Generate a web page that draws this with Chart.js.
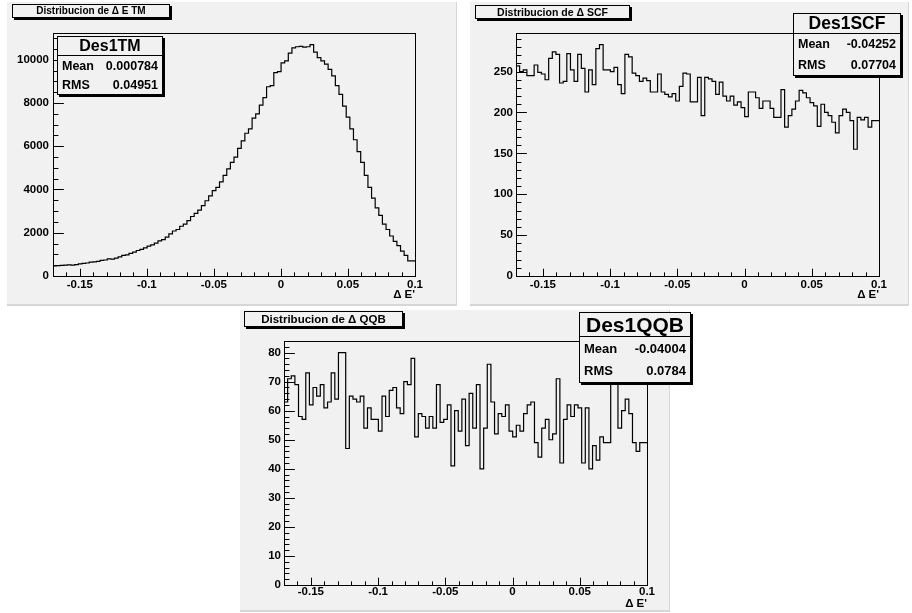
<!DOCTYPE html>
<html>
<head>
<meta charset="utf-8">
<script src="https://cdn.jsdelivr.net/npm/chart.js@4.4.0/dist/chart.umd.min.js"></script>
<style>
  html, body { margin: 0; padding: 0; background: #ffffff; }
  body { width: 912px; height: 613px; position: relative; overflow: hidden;
         font-family: "Liberation Sans", Arial, Helvetica, sans-serif; }
  .pad { position: absolute; background: #f1f1f1; box-sizing: border-box;
         border-right: 1px solid #d6d6d6; border-bottom: 2px solid #d6d6d6; }
  canvas.h { position: absolute; }
  .ttl { position: absolute; box-sizing: border-box; background: #f1f1f1;
         border: 1px solid #000; box-shadow: 2px 2px 0 #000; font-weight: bold;
         text-align: center; color: #000; white-space: nowrap; }
  .stats { position: absolute; box-sizing: border-box; background: #f1f1f1;
           border: 1px solid #000; box-shadow: 2px 2px 0 #000; color: #000;
           display: flex; flex-direction: column; font-weight: bold; }
  .stats .sh { border-bottom: 1px solid #000; text-align: center; white-space: nowrap; }
  .stats .sr { flex: 1; display: flex; justify-content: space-between; align-items: center;
               padding: 0 4px 0 4px; white-space: nowrap; }
</style>
</head>
<body>
<script>
// ΔE' histograms: 100 bins over [-0.17, 0.10]
const xLow = -0.17;
const xHigh = 0.10;
const nBins = 100;

const countsTM = [
  450, 470, 480, 490, 500, 510, 500, 530, 560, 580,
  600, 640, 650, 680, 720, 740, 790, 780, 830, 880,
  950, 980, 1050, 1100, 1180, 1230, 1300, 1380, 1440, 1520,
  1620, 1680, 1800, 1950, 2080, 2150, 2300, 2400, 2560, 2750,
  2900, 3050, 3250, 3480, 3700, 3950, 4100, 4350, 4650, 4950,
  5250, 5500, 5900, 6250, 6600, 6800, 7300, 7500, 7900, 8250,
  8750, 8800, 9400, 9450, 9850, 9950, 10300, 10550, 10600, 10620,
  10580, 10600, 10700, 10350, 10100, 9950, 9800, 9550, 9250, 8800,
  8400, 7850, 7350, 6800, 6300, 5750, 5250, 4650, 4100, 3600,
  3150, 2800, 2400, 2150, 1850, 1600, 1400, 1150, 950, 700
];

const countsSCF = [
  251, 257, 250, 252, 245, 245, 258, 249, 247, 240,
  266, 274, 271, 236, 238, 272, 252, 238, 271, 254,
  225, 252, 234, 278, 283, 252, 252, 250, 255, 234,
  223, 271, 268, 248, 245, 238, 242, 239, 225, 225,
  247, 225, 222, 219, 223, 214, 232, 248, 247, 213,
  213, 243, 196, 243, 241, 238, 222, 237, 220, 214,
  220, 209, 213, 206, 195, 225, 225, 218, 205, 214,
  214, 205, 194, 194, 228, 182, 196, 204, 214, 227,
  224, 218, 212, 208, 183, 210, 200, 196, 188, 175,
  196, 204, 200, 190, 155, 194, 191, 194, 182, 190
];

const countsQQB = [
  68, 63, 71, 72, 69, 58, 57, 73, 62, 68,
  65, 69, 61, 63, 73, 64, 80, 80, 47, 65,
  64, 63, 65, 54, 61, 57, 57, 53, 65, 58,
  67, 68, 61, 59, 70, 69, 78, 51, 59, 58,
  54, 58, 54, 69, 56, 57, 62, 41, 60, 53,
  64, 48, 66, 54, 69, 40, 54, 76, 63, 52,
  59, 58, 62, 53, 51, 55, 53, 59, 62, 63,
  49, 44, 54, 57, 50, 52, 71, 42, 57, 62,
  58, 62, 61, 42, 61, 40, 48, 43, 51, 49,
  49, 76, 73, 54, 60, 64, 59, 49, 46, 49
];

const xTickLabels = ['-0.15', '-0.1', '-0.05', '0', '0.05', '0.1'];
const yTickLabelsTM = ['0', '2000', '4000', '6000', '8000', '10000'];
const yTickLabelsSCF = ['0', '50', '100', '150', '200', '250'];
const yTickLabelsQQB = ['0', '10', '20', '30', '40', '50', '60', '70', '80'];

const histTitles = ['Distribucion de \u0394 E TM', 'Distribucion de \u0394 SCF', 'Distribucion de \u0394 QQB'];
const statNames = ['Des1TM', 'Des1SCF', 'Des1QQB'];
const statMeans = ['0.000784', '-0.04252', '-0.04004'];
const statRMS = ['0.04951', '0.07704', '0.0784'];
const xAxisTitle = '\u0394 E\'';

// Pad geometry and text sizing for each histogram pad
const layouts = [
  { pad: [7, 2, 450, 304], yAxisW: 46, xAxisH: 30, padTop: 31, padRight: 42,
    xLabelPad: 2, yLabelPad: 4, titlePadB: 4, tickSize: 11.5,
    title: [12, 4, 158, 14, 10],
    stats: [57, 36, 106, 59, 19, 16, 12.5],
    yMinor: 500 },
  { pad: [470, 2, 439, 304], yAxisW: 46, xAxisH: 30, padTop: 31, padRight: 30,
    xLabelPad: 2, yLabelPad: 3, titlePadB: 4, tickSize: 11.5,
    title: [475, 5, 155, 14, 10.5],
    stats: [793, 13, 108, 63, 20, 17.5, 12.5],
    yMinor: 10 },
  { pad: [240, 310, 430, 302], yAxisW: 44, xAxisH: 27, padTop: 31, padRight: 23,
    xLabelPad: 0, yLabelPad: 3, titlePadB: 1, tickSize: 11.5,
    title: [244, 311, 159, 16, 11.5],
    stats: [579, 312, 112, 71, 24, 21, 13],
    yMinor: 2 }
];

const FONT = '"Liberation Sans", Arial, Helvetica, sans-serif';

// Inward ROOT-style tick marks plus the frame around the plot area
const frameTicks = {
  id: 'frameTicks',
  afterDatasetsDraw(chart) {
    const { ctx, chartArea: a, scales: { x, y } } = chart;
    const xl = (a.bottom - a.top) * 0.03;
    const yl = (a.right - a.left) * 0.03;
    ctx.save();
    ctx.strokeStyle = '#000';
    ctx.lineWidth = 1;
    ctx.beginPath();
    x.ticks.forEach(t => {
      const px = Math.round(x.getPixelForValue(t.value)) + 0.5;
      const L = t.label !== '' ? xl : xl / 2;
      ctx.moveTo(px, a.bottom);
      ctx.lineTo(px, a.bottom - L);
    });
    y.ticks.forEach(t => {
      const py = Math.round(y.getPixelForValue(t.value)) + 0.5;
      const L = t.label !== '' ? yl : yl / 2;
      ctx.moveTo(a.left, py);
      ctx.lineTo(a.left + L, py);
    });
    ctx.stroke();
    ctx.strokeRect(Math.round(a.left) + 0.5, Math.round(a.top) + 0.5,
                   Math.round(a.right - a.left), Math.round(a.bottom - a.top));
    ctx.restore();
  }
};

function labelFrom(list, v) {
  const s = list.find(l => Math.abs(parseFloat(l) - v) < 1e-9);
  return s === undefined ? '' : s;
}

function stepTicks(lo, hi, step) {
  const out = [];
  const n = Math.floor((hi - lo) / step + 1e-9);
  for (let k = 0; k <= n; k++) out.push({ value: Math.round((lo + k * step) * 1e6) / 1e6 });
  return out;
}

function buildPanel(i, counts, yLabels) {
  const L = layouts[i];
  const [px, py, pw, ph] = L.pad;

  const pad = document.createElement('div');
  pad.className = 'pad';
  Object.assign(pad.style, { left: px + 'px', top: py + 'px', width: pw + 'px', height: ph + 'px' });
  document.body.appendChild(pad);

  const cv = document.createElement('canvas');
  cv.className = 'h';
  cv.width = pw; cv.height = ph;
  Object.assign(cv.style, { left: px + 'px', top: py + 'px', width: pw + 'px', height: ph + 'px' });
  document.body.appendChild(cv);

  const width = (xHigh - xLow) / nBins;
  const pts = counts.map((c, k) => ({ x: xLow + k * width, y: c }));
  pts.push({ x: xHigh, y: counts[counts.length - 1] });
  const yMax = Math.max(...counts) * 1.05;

  const tickFont = { family: FONT, weight: 'bold', size: L.tickSize };

  new Chart(cv, {
    type: 'line',
    data: { datasets: [{ data: pts, stepped: 'after', borderColor: '#000', borderWidth: 1.2,
                         pointRadius: 0, fill: false, tension: 0 }] },
    options: {
      responsive: false, animation: false, devicePixelRatio: 1, events: [],
      layout: { padding: { left: 0, top: L.padTop, right: L.padRight, bottom: 0 } },
      plugins: { legend: { display: false }, tooltip: { enabled: false }, title: { display: false } },
      scales: {
        x: {
          type: 'linear', min: xLow, max: xHigh,
          afterBuildTicks: s => { s.ticks = stepTicks(xLow, xHigh, 0.01); },
          afterFit: s => { s.height = L.xAxisH; },
          grid: { display: false, drawTicks: false },
          border: { display: false },
          ticks: { autoSkip: false, maxRotation: 0, minRotation: 0, padding: L.xLabelPad,
                   color: '#000', font: tickFont, callback: v => labelFrom(xTickLabels, v) },
          title: { display: true, text: xAxisTitle, align: 'end', color: '#000', font: tickFont,
                   padding: { top: 0, bottom: L.titlePadB } }
        },
        y: {
          type: 'linear', min: 0, max: yMax,
          afterBuildTicks: s => { s.ticks = stepTicks(0, yMax, L.yMinor); },
          afterFit: s => { s.width = L.yAxisW; },
          grid: { display: false, drawTicks: false },
          border: { display: false },
          ticks: { autoSkip: false, padding: L.yLabelPad, color: '#000', font: tickFont,
                   callback: v => labelFrom(yLabels, v) }
        }
      }
    },
    plugins: [frameTicks]
  });

  const [tx, ty, tw, th, tf] = L.title;
  const ttl = document.createElement('div');
  ttl.className = 'ttl';
  ttl.textContent = histTitles[i];
  Object.assign(ttl.style, { left: tx + 'px', top: ty + 'px', width: tw + 'px', height: th + 'px',
                             lineHeight: (th - 2) + 'px', fontSize: tf + 'px' });
  document.body.appendChild(ttl);

  const [sx, sy, sw, sh, shh, sfTitle, sfRow] = L.stats;
  const st = document.createElement('div');
  st.className = 'stats';
  Object.assign(st.style, { left: sx + 'px', top: sy + 'px', width: sw + 'px', height: sh + 'px' });
  const head = document.createElement('div');
  head.className = 'sh';
  head.textContent = statNames[i];
  Object.assign(head.style, { height: (shh - 1) + 'px', lineHeight: (shh - 1) + 'px', fontSize: sfTitle + 'px' });
  st.appendChild(head);
  [['Mean', statMeans[i]], ['RMS', statRMS[i]]].forEach(([k, v]) => {
    const r = document.createElement('div');
    r.className = 'sr';
    r.style.fontSize = sfRow + 'px';
    const a = document.createElement('span'); a.textContent = k;
    const b = document.createElement('span'); b.textContent = v;
    r.appendChild(a); r.appendChild(b);
    st.appendChild(r);
  });
  document.body.appendChild(st);
}

buildPanel(0, countsTM, yTickLabelsTM);
buildPanel(1, countsSCF, yTickLabelsSCF);
buildPanel(2, countsQQB, yTickLabelsQQB);
</script>
</body>
</html>
